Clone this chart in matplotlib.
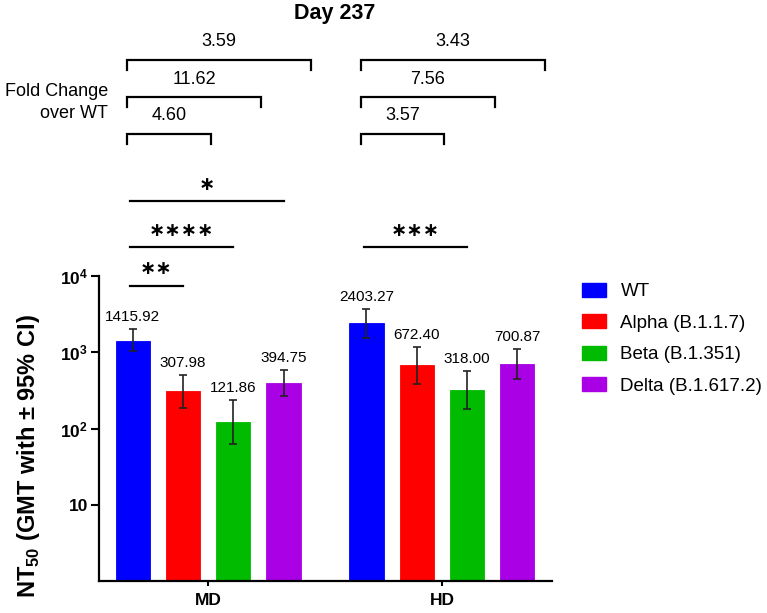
import numpy as np
from matplotlib import pyplot as plt
from matplotlib.patches import Patch

plt.rcParams['font.family'] = ['Liberation Sans', 'DejaVu Sans']
plt.rcParams['mathtext.fontset'] = 'custom'
plt.rcParams['mathtext.rm'] = 'Liberation Sans'
plt.rcParams['mathtext.bf'] = 'Liberation Sans:bold'

groups = ['MD', 'HD']
variants = ['WT', 'Alpha (B.1.1.7)', 'Beta (B.1.351)', 'Delta (B.1.617.2)']
colors = ['#0000FF', '#FF0000', '#00BB00', '#AA00E6']

gmt_md = [1415.92, 307.98, 121.86, 394.75]
gmt_hd = [2403.27, 672.40, 318.00, 700.87]
ci_low_md = [1030, 188, 63, 265]
ci_high_md = [2000, 499, 234, 581]
ci_low_hd = [1560, 380, 178, 443]
ci_high_hd = [3660, 1174, 569, 1095]

# significance vs WT: (group, variant index, stars)
sig = [(0, 3, '∗'), (0, 2, '∗∗∗∗'), (0, 1, '∗∗'), (1, 2, '∗∗∗')]

gmt = [gmt_md, gmt_hd]
lo = [ci_low_md, ci_low_hd]
hi = [ci_high_md, ci_high_hd]

centers = np.array([0.0, 4.65])
offs = np.array([-1.5, -0.5, 0.5, 1.5])
width = 0.68
xlim = (-2.17, 6.84)

fig = plt.figure(figsize=(7.67, 6.13), dpi=100)
ax = fig.add_axes([99/767, 32/613, 453/767, 305/613])

for g in range(2):
    xs = centers[g] + offs
    v = np.array(gmt[g])
    err = [v - np.array(lo[g]), np.array(hi[g]) - v]
    ax.bar(xs, v, width, color=colors, edgecolor=colors, linewidth=0.6, zorder=2)
    ax.errorbar(xs, v, yerr=err, fmt='none', ecolor='#222222', elinewidth=1.2,
                capsize=3.2, capthick=1.2, zorder=3)
    for x, val, h in zip(xs, v, hi[g]):
        ax.annotate('%.2f' % val, (x, h), xytext=(0, 3.5), textcoords='offset points',
                    ha='center', va='bottom', fontsize=11)

ax.set_yscale('log')
ax.set_ylim(1, 1e4)
ax.set_xlim(xlim)
ax.set_yticks([10, 100, 1000, 10000])
ax.set_yticklabels(['10', r'$\mathbf{10^{2}}$', r'$\mathbf{10^{3}}$', r'$\mathbf{10^{4}}$'],
                   fontsize=12.5, fontweight='bold')
ax.minorticks_off()
ax.set_xticks(centers)
ax.set_xticklabels(groups, fontsize=12.5, fontweight='bold')
ax.tick_params(axis='y', length=6, width=1.5, pad=2)
ax.tick_params(axis='x', length=3.5, width=1.5, pad=5)
for s in ['top', 'right']:
    ax.spines[s].set_visible(False)
for s in ['left', 'bottom']:
    ax.spines[s].set_linewidth(1.6)
ax.set_ylabel(r'NT$_{\mathbf{50}}$ (GMT with ± 95% CI)', fontsize=17, fontweight='bold')
ax.yaxis.set_label_coords(-0.125, 0.41)

# overlay for brackets and stars, y in pixel rows from top
ov = fig.add_axes([99/767, 0, 453/767, 1])
ov.set_xlim(xlim)
ov.set_ylim(613, 0)
ov.axis('off')

bracket_y = [60, 97, 134]
for g in range(2):
    xw = centers[g] + offs[0]
    for k, vi in enumerate([3, 2, 1]):
        x0 = xw - 0.11
        x1 = centers[g] + offs[vi] + 0.55
        y = bracket_y[k]
        ov.plot([x0, x0, x1, x1], [y + 10, y, y, y + 10], color='black', lw=1.6,
                solid_joinstyle='miter')
        fold = gmt[g][0] / gmt[g][vi]
        ov.text((x0 + x1) / 2, y - 18, '%.2f' % fold, ha='center', va='center', fontsize=13)

ov.text(-2.17 + 9/50.3, 92, 'Fold Change', ha='right', va='center', fontsize=13)
ov.text(-2.17 + 9/50.3, 113, 'over WT', ha='right', va='center', fontsize=13)

sig_y = {'∗': 201, '∗∗∗∗': 247, '∗∗∗': 247, '∗∗': 286}
for g, vi, stars in sig:
    x0 = centers[g] + offs[0] - 0.05
    x1 = centers[g] + offs[vi]
    y = sig_y[stars]
    ov.plot([x0, x1], [y, y], color='black', lw=1.6)
    ov.text((x0 + x1) / 2, y - 17, stars, ha='center', va='center', fontsize=14,
            family='DejaVu Sans', fontweight='bold')

fig.text(335/767, 1 - 13/613, 'Day 237', ha='center', va='center', fontsize=15.5,
         fontweight='bold')

handles = [Patch(facecolor=c, edgecolor=c) for c in colors]
fig.legend(handles, variants, loc='upper left', bbox_to_anchor=(582/767, 1 - 283/613),
           frameon=False, fontsize=13.5, handlelength=1.3, handleheight=0.75,
           handletextpad=0.75, labelspacing=0.75, borderpad=0, borderaxespad=0)

plt.savefig('out.png', dpi=100)
